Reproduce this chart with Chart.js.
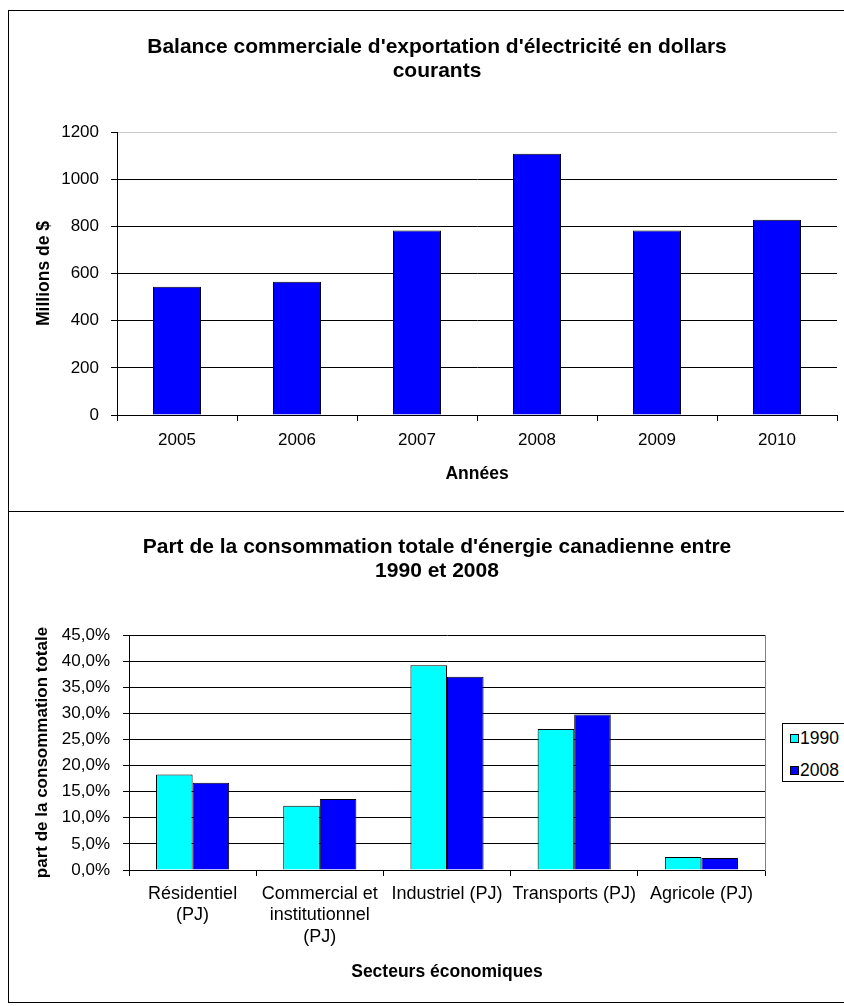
<!DOCTYPE html>
<html>
<head>
<meta charset="utf-8">
<script src="https://cdn.jsdelivr.net/npm/chart.js@4.4.1/dist/chart.umd.min.js"></script>
<style>
  html, body { margin: 0; padding: 0; background: #fff; overflow: hidden; width: 844px; height: 1006px; }
  .frame { position: absolute; left: 8px; width: 860px; border: 1px solid #000; box-sizing: border-box; background: #fff; }
  #f1 { top: 10px; height: 502px; }
  #f2 { top: 511px; height: 492px; }
  canvas { position: absolute; left: 0; top: 0; }
  #legend { position: absolute; left: 782px; top: 723px; width: 90px; height: 59px; border: 1px solid #000; box-sizing: border-box; background: #fff; font-family: "Liberation Sans", Arial, sans-serif; font-size: 17.5px; color: #000; }
  .li { position: absolute; left: 7px; height: 20px; line-height: 20px; white-space: nowrap; }
  .sw { display: inline-block; width: 7px; height: 7px; border: 1px solid #000; vertical-align: middle; margin-right: 1px; position: relative; top: -1px; }
</style>
</head>
<body>
<div class="frame" id="f1"><canvas id="c1" width="856" height="500"></canvas></div>
<div class="frame" id="f2"><canvas id="c2" width="856" height="490"></canvas></div>
<div id="legend"></div>
<script>
// ---- Data: chart 1 ----
const years = ['2005', '2006', '2007', '2008', '2009', '2010'];
const exportBalance = [544, 565, 782, 1108, 782, 828];
const title1 = ["Balance commerciale d'exportation d'électricité en dollars", "courants"];
const yTitle1 = 'Millions de $';
const xTitle1 = 'Années';

// ---- Data: chart 2 ----
const sectors = [['Résidentiel', '(PJ)'], ['Commercial et', 'institutionnel', '(PJ)'], 'Industriel (PJ)', 'Transports (PJ)', 'Agricole (PJ)'];
const seriesNames = ['1990', '2008'];
const share1990 = [18.3, 12.3, 39.2, 27.0, 2.5];
const share2008 = [16.7, 13.6, 37.0, 29.8, 2.3];
const title2 = ["Part de la consommation totale d'énergie canadienne entre", "1990 et 2008"];
const yTitle2 = 'part de la consommation totale';
const xTitle2 = 'Secteurs économiques';

const FONT = '"Liberation Sans", Arial, sans-serif';
Chart.defaults.font.family = FONT;
Chart.defaults.color = '#000';

function dummyRight(w, showBorder) {
  return {
    position: 'right', display: true, type: 'linear',
    grid: { display: false, drawTicks: false },
    border: { display: showBorder, color: '#808080', width: 1 },
    ticks: { display: false },
    afterFit(s) { s.width = w; }
  };
}

// ---- Chart 1 ----
new Chart(document.getElementById('c1'), {
  type: 'bar',
  data: {
    labels: years,
    datasets: [{
      label: 'Balance',
      data: exportBalance,
      backgroundColor: '#0000FF',
      borderColor: '#000',
      borderWidth: 1,
      categoryPercentage: 1.0,
      barPercentage: 0.4
    }]
  },
  options: {
    responsive: false, animation: false, devicePixelRatio: 1,
    layout: { padding: 0 },
    plugins: {
      legend: { display: false },
      tooltip: { enabled: false },
      title: {
        display: true, text: title1, color: '#000',
        font: { family: FONT, size: 21, weight: 'bold', lineHeight: 1.143 },
        padding: { top: 24, bottom: 49 }
      }
    },
    scales: {
      x: {
        grid: { offset: true, drawOnChartArea: false, drawTicks: true, tickLength: 6, color: '#000' },
        border: { display: true, color: '#000', width: 1 },
        ticks: { font: { size: 17, lineHeight: 1.2 }, padding: 9, maxRotation: 0, autoSkip: false, color: '#000' },
        title: { display: true, text: xTitle1, font: { size: 17.5, weight: 'bold', lineHeight: 1.2 }, padding: { top: 0, bottom: 26.5 }, color: '#000' },
        afterFit(s) { s.height = 96; }
      },
      y: {
        min: 0, max: 1200,
        grid: { color: (c) => (c.tick && c.tick.value === 1200 ? '#c8c8c8' : '#000'), tickLength: 6, tickColor: '#000' },
        border: { display: true, color: '#000', width: 1 },
        ticks: { stepSize: 200, font: { size: 17 }, padding: 12, color: '#000', callback: (v) => String(v) },
        title: { display: true, text: yTitle1, font: { size: 17.5, weight: 'bold', lineHeight: 1.2 }, padding: { top: 24.5, bottom: 0 }, color: '#000' },
        afterFit(s) { s.width = 108; }
      },
      yR: dummyRight(28, false)
    }
  }
});

// ---- Chart 2 ----
const colors2 = ['#00FFFF', '#0000FF'];
const chart2 = new Chart(document.getElementById('c2'), {
  type: 'bar',
  data: {
    labels: sectors,
    datasets: [
      { label: seriesNames[0], data: share1990, backgroundColor: colors2[0], borderColor: '#000', borderWidth: 1, categoryPercentage: 0.575, barPercentage: 1.0 },
      { label: seriesNames[1], data: share2008, backgroundColor: colors2[1], borderColor: '#000', borderWidth: 1, categoryPercentage: 0.575, barPercentage: 1.0 }
    ]
  },
  options: {
    responsive: false, animation: false, devicePixelRatio: 1,
    layout: { padding: 0 },
    plugins: {
      legend: { display: false },
      tooltip: { enabled: false },
      title: {
        display: true, text: title2, color: '#000',
        font: { family: FONT, size: 21, weight: 'bold', lineHeight: 1.143 },
        padding: { top: 23, bottom: 52 }
      }
    },
    scales: {
      x: {
        grid: { offset: true, drawOnChartArea: false, drawTicks: true, tickLength: 6, color: '#000' },
        border: { display: true, color: '#000', width: 1 },
        ticks: { font: { size: 18, lineHeight: 1.2 }, padding: 7, maxRotation: 0, autoSkip: false, color: '#000' },
        title: { display: true, text: xTitle2, font: { size: 17.5, weight: 'bold', lineHeight: 1.2 }, padding: { top: 0, bottom: 19 }, color: '#000' },
        afterFit(s) { s.height = 132; }
      },
      y: {
        min: 0, max: 45,
        grid: { color: '#000', tickLength: 6, tickColor: '#000' },
        border: { display: true, color: '#000', width: 1 },
        ticks: { stepSize: 5, font: { size: 17 }, padding: 13, color: '#000',
          callback: (v) => Number(v).toFixed(1).replace('.', ',') + '%' },
        title: { display: true, text: yTitle2, font: { size: 17, weight: 'bold', lineHeight: 1.2 }, padding: { top: 23.5, bottom: 0 }, color: '#000' },
        afterFit(s) { s.width = 120; }
      },
      yR: dummyRight(100, true)
    }
  }
});

// ---- HTML legend built from the chart's datasets ----
const legend = document.getElementById('legend');
chart2.data.datasets.forEach((ds, i) => {
  const item = document.createElement('div');
  item.className = 'li';
  item.style.top = (4 + i * 32) + 'px';
  const sw = document.createElement('span');
  sw.className = 'sw';
  sw.style.background = ds.backgroundColor;
  item.appendChild(sw);
  item.appendChild(document.createTextNode(ds.label));
  legend.appendChild(item);
});
</script>
</body>
</html>
